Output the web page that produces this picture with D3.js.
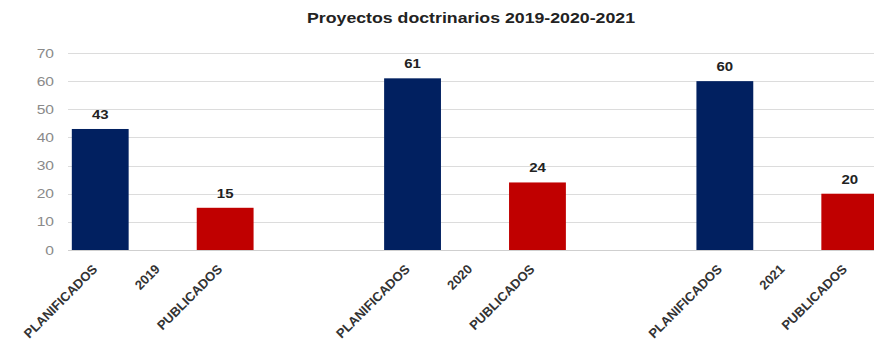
<!DOCTYPE html>
<html>
<head>
<meta charset="utf-8">
<script src="https://cdn.jsdelivr.net/npm/d3@7"></script>
<style>
  html, body { margin: 0; padding: 0; background: #ffffff; }
  svg { display: block; font-family: "Liberation Sans", Arial, sans-serif; }
</style>
</head>
<body>
<svg id="chart" width="874" height="342"></svg>
<script>
// Category labels along the x axis (blank slots separate the years)
const categories = [
  "PLANIFICADOS", "2019", "PUBLICADOS", "", "",
  "PLANIFICADOS", "2020", "PUBLICADOS", "", "",
  "PLANIFICADOS", "2021", "PUBLICADOS"
];
// Value per slot; null where no bar is drawn
const values = [43, null, 15, null, null, 61, null, 24, null, null, 60, null, 20];
// Bar kind per slot
const kinds = ["plan", null, "pub", null, null, "plan", null, "pub", null, null, "plan", null, "pub"];
const yTicks = [0, 10, 20, 30, 40, 50, 60, 70];
const title = "Proyectos doctrinarios 2019-2020-2021";

const colors = { plan: "#012060", pub: "#c00000" };
const widen = 1.2; // horizontal stretch of the numeric/title lettering

const svg = d3.select("#chart");
const margin = { left: 69, right: -7, top: 53, bottom: 92 };
const W = 874, H = 342;

const x = d3.scaleBand()
  .domain(d3.range(categories.length))
  .range([margin.left, W - margin.right])
  .paddingInner(0.09)
  .paddingOuter(0.045);

const y = d3.scaleLinear()
  .domain([0, 70])
  .range([H - margin.bottom, margin.top]);

// Title
svg.append("text")
  .attr("x", 471)
  .attr("y", 23)
  .attr("text-anchor", "middle")
  .attr("font-size", 15)
  .attr("font-weight", "bold")
  .attr("fill", "#222")
  .attr("textLength", 328)
  .attr("lengthAdjust", "spacingAndGlyphs")
  .text(title);

// Horizontal gridlines
svg.append("g")
  .selectAll("line")
  .data(yTicks)
  .join("line")
  .attr("x1", margin.left - 1)
  .attr("x2", W)
  .attr("y1", d => Math.round(y(d)) + 0.5)
  .attr("y2", d => Math.round(y(d)) + 0.5)
  .attr("stroke", d => d === 0 ? "#cfcfcf" : "#dcdcdc")
  .attr("stroke-width", 1.2);

// Y tick labels
svg.append("g")
  .selectAll("text")
  .data(yTicks)
  .join("text")
  .attr("transform", d => `translate(54,${y(d)}) scale(${widen},1)`)
  .attr("dy", "0.35em")
  .attr("text-anchor", "end")
  .attr("font-size", 13)
  .attr("fill", "#8a8a8a")
  .text(d => d);

// Bars
const barData = values.map((v, i) => ({ i, v, k: kinds[i] })).filter(d => d.v !== null);

svg.append("g")
  .selectAll("rect")
  .data(barData)
  .join("rect")
  .attr("x", d => x(d.i))
  .attr("width", x.bandwidth())
  .attr("y", d => y(d.v))
  .attr("height", d => y(0) - y(d.v))
  .attr("fill", d => colors[d.k]);

// Value labels above bars
svg.append("g")
  .selectAll("text")
  .data(barData)
  .join("text")
  .attr("transform", d => `translate(${x(d.i) + x.bandwidth() / 2},${y(d.v) - 10}) scale(${widen},1)`)
  .attr("text-anchor", "middle")
  .attr("font-size", 12.5)
  .attr("font-weight", "bold")
  .attr("fill", "#222")
  .text(d => d.v);

// Rotated category labels
svg.append("g")
  .selectAll("text")
  .data(categories.map((c, i) => ({ c, i })).filter(d => d.c !== ""))
  .join("text")
  .attr("transform", d => `translate(${x(d.i) + x.bandwidth() / 2 - 2},${y(0) + 20}) rotate(-45)`)
  .attr("text-anchor", "end")
  .attr("font-size", 13)
  .attr("font-weight", "bold")
  .attr("fill", "#333")
  .text(d => d.c);
</script>
</body>
</html>
